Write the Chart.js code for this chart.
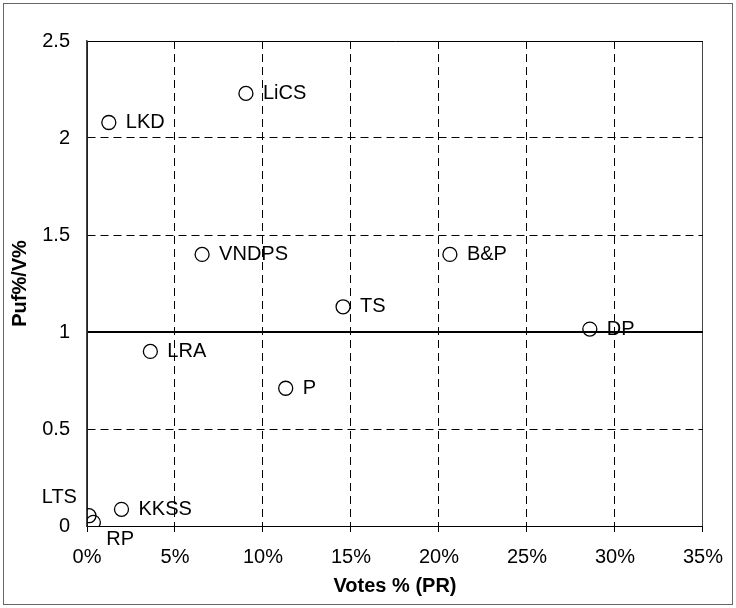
<!DOCTYPE html>
<html>
<head>
<meta charset="utf-8">
<script src="https://cdn.jsdelivr.net/npm/chart.js@4"></script>
<style>
    body { margin: 0; background: #fff; }
    #chart { display: block; }
</style>
</head>
<body>
<canvas id="chart" width="736" height="608"></canvas>
<script>
var parties = ['LKD', 'LiCS', 'VNDPS', 'B&P', 'TS', 'DP', 'LRA', 'P', 'KKSS', 'LTS', 'RP'];
var votesPct = [1.24, 9.03, 6.54, 20.62, 14.55, 28.57, 3.60, 11.29, 1.96, 0.11, 0.36];
var pufRatio = [2.08, 2.23, 1.40, 1.40, 1.13, 1.015, 0.90, 0.71, 0.086, 0.053, 0.019];
var xTicks = [0, 5, 10, 15, 20, 25, 30, 35];
var yTicks = [0, 0.5, 1, 1.5, 2, 2.5];

// where each label sits relative to its marker (default: right of it)
var labelPlacement = {
    'LTS': { dx: -12, dy: -18, align: 'right' },
    'RP': { dx: 13, dy: 17, align: 'left' }
};

var FONT = 'Liberation Sans, Arial, sans-serif';

var pointLabels = {
    id: 'pointLabels',
    afterDatasetsDraw: function (chart) {
        var ctx = chart.ctx;
        var meta = chart.getDatasetMeta(0);
        ctx.save();
        ctx.font = '20px ' + FONT;
        ctx.fillStyle = '#000';
        ctx.textBaseline = 'middle';
        meta.data.forEach(function (pt, i) {
            var name = parties[i];
            var p = labelPlacement[name] || { dx: 17, dy: 0, align: 'left' };
            ctx.textAlign = p.align;
            ctx.fillText(name, pt.x + p.dx, pt.y + p.dy);
        });
        ctx.restore();
    }
};

var frame = {
    id: 'frame',
    beforeDraw: function (chart) {
        var ctx = chart.ctx;
        ctx.save();
        ctx.fillStyle = '#fff';
        ctx.fillRect(0, 0, chart.width, chart.height);
        ctx.strokeStyle = '#666';
        ctx.lineWidth = 1;
        ctx.strokeRect(3.5, 3.5, chart.width - 7, chart.height - 7);
        ctx.restore();
    }
};

var points = votesPct.map(function (v, i) {
    return { x: v, y: pufRatio[i] };
});

new Chart(document.getElementById('chart'), {
    type: 'scatter',
    data: {
        datasets: [{
            data: points,
            pointStyle: 'circle',
            pointRadius: 7,
            pointHoverRadius: 7,
            borderColor: '#000',
            borderWidth: 1.3,
            backgroundColor: 'rgba(0,0,0,0)'
        }]
    },
    options: {
        responsive: false,
        animation: false,
        layout: { padding: { left: 0, top: 41, right: 30, bottom: 0 } },
        plugins: {
            legend: { display: false },
            tooltip: { enabled: false }
        },
        scales: {
            x: {
                type: 'linear',
                min: 0,
                max: 35,
                afterBuildTicks: function (axis) {
                    axis.ticks = xTicks.map(function (v) { return { value: v }; });
                },
                afterFit: function (axis) { axis.height = 82; },
                ticks: {
                    padding: 13,
                    color: '#000',
                    font: { family: FONT, size: 20 },
                    callback: function (v) { return v + '%'; }
                },
                grid: {
                    color: function (c) {
                        var v = c.tick && c.tick.value;
                        return v === 35 ? '#444' : '#000';
                    },
                    lineWidth: 1,
                    drawTicks: true,
                    tickLength: 6,
                    tickColor: '#000',
                    tickWidth: 1,
                    tickBorderDash: []
                },
                border: {
                    display: true,
                    color: '#000',
                    width: 1,
                    dash: function (c) {
                        var v = c.tick && c.tick.value;
                        return (v === 0 || v === 35) ? [] : [8, 5];
                    }
                },
                title: {
                    display: true,
                    text: 'Votes % (PR)',
                    color: '#000',
                    font: { family: FONT, size: 20, weight: 'bold' },
                    padding: { top: 0, bottom: 10 }
                }
            },
            y: {
                type: 'linear',
                min: 0,
                max: 2.5,
                afterBuildTicks: function (axis) {
                    axis.ticks = yTicks.map(function (v) { return { value: v }; });
                },
                afterFit: function (axis) { axis.width = 87; },
                ticks: {
                    padding: 17,
                    color: '#000',
                    font: { family: FONT, size: 20 },
                    callback: function (v) { return String(v); }
                },
                grid: {
                    color: '#000',
                    lineWidth: function (c) {
                        var v = c.tick && c.tick.value;
                        return v === 1 ? 2 : 1;
                    },
                    drawTicks: false
                },
                border: {
                    display: true,
                    color: '#444',
                    width: 1.5,
                    dash: function (c) {
                        var v = c.tick && c.tick.value;
                        return (v === 0 || v === 1 || v === 2.5) ? [] : [8, 5];
                    }
                },
                title: {
                    display: true,
                    text: 'Puf%/V%',
                    color: '#000',
                    font: { family: FONT, size: 20, weight: 'bold' },
                    padding: { top: 8, bottom: 0 }
                }
            }
        }
    },
    plugins: [frame, pointLabels]
});
</script>
</body>
</html>
